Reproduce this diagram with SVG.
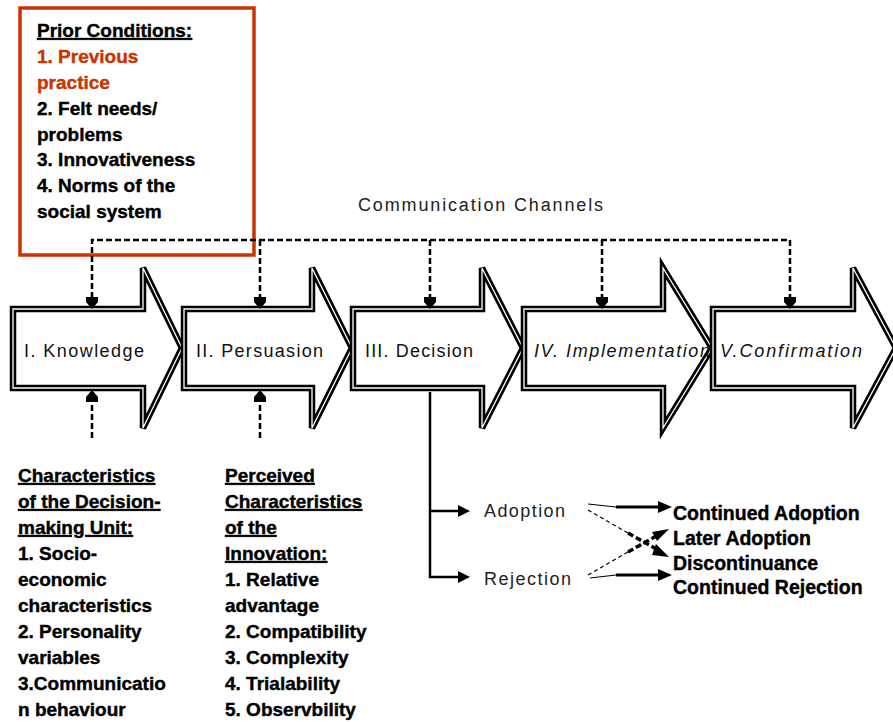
<svg xmlns="http://www.w3.org/2000/svg" width="893" height="722" viewBox="0 0 893 722">
<defs>
<style>
.bk{fill:#fff;stroke:#000;stroke-width:6.5;stroke-linejoin:miter}
.wl{fill:none;stroke:#fff;stroke-width:1.3;stroke-linejoin:miter}
.lbl{font-family:"Liberation Sans",Arial,sans-serif;font-size:18px;fill:#111}
.it{font-style:italic}
.bt{font-family:"Liberation Sans",Arial,sans-serif;font-size:19px;font-weight:bold;fill:#000;stroke:#000;stroke-width:0.4}
.ul{text-decoration:underline}
.red{fill:#cc3300;stroke:#cc3300}
.big{font-size:19.5px}
.dash{fill:none;stroke:#000;stroke-width:2.5;stroke-dasharray:6 3}
.solid{fill:none;stroke:#000;stroke-width:2.5}
.thin{fill:none;stroke:#000;stroke-width:1.2}
.thindash{fill:none;stroke:#000;stroke-width:1.2;stroke-dasharray:4 3}
.thickdash{fill:none;stroke:#000;stroke-width:3.5;stroke-dasharray:6 3}
.ah{fill:#000}
.gl{font-family:"Liberation Sans",Arial,sans-serif;font-size:18px;fill:#222}
</style>
</defs>
<rect width="893" height="722" fill="#fff"/>

<g id="prior-conditions">
<rect x="20" y="8" width="234" height="247" fill="#fff" stroke="#cc3300" stroke-width="3.5"/>
<text class="bt" x="37" y="37"><tspan class="ul">Prior Conditions:</tspan></text>
<text class="bt red" x="37" y="63">1. Previous</text>
<text class="bt red" x="37" y="89">practice</text>
<text class="bt" x="37" y="115">2. Felt needs/</text>
<text class="bt" x="37" y="141">problems</text>
<text class="bt" x="37" y="166">3. Innovativeness</text>
<text class="bt" x="37" y="192">4. Norms of the</text>
<text class="bt" x="37" y="218">social system</text>
</g>

<text class="gl" x="358" y="211" textLength="245" lengthAdjust="spacing">Communication Channels</text>

<g id="knowledge">
<polygon class="bk" points="13,309 143,309 143,268 182,348 143,428 143,388 13,388"/>
<polygon class="wl" points="13,309 143,309 143,268 182,348 143,428 143,388 13,388"/>
<text class="lbl" x="24" y="357" textLength="120" lengthAdjust="spacing">I. Knowledge</text>
</g>
<g id="persuasion">
<polygon class="bk" points="184,309 312,309 312,268 352,348 312,428 312,388 184,388"/>
<polygon class="wl" points="184,309 312,309 312,268 352,348 312,428 312,388 184,388"/>
<text class="lbl" x="196" y="357" textLength="127" lengthAdjust="spacing">II. Persuasion</text>
</g>
<g id="decision">
<polygon class="bk" points="353,309 482,309 482,268 523,348 482,428 482,388 353,388"/>
<polygon class="wl" points="353,309 482,309 482,268 523,348 482,428 482,388 353,388"/>
<text class="lbl" x="365" y="357" textLength="108" lengthAdjust="spacing">III. Decision</text>
</g>
<g id="implementation">
<polygon class="bk" points="524,309 663,309 663,268 712,348 663,428 663,388 524,388"/>
<polygon class="wl" points="524,309 663,309 663,268 712,348 663,428 663,388 524,388"/>
<text class="lbl it" x="534" y="357" textLength="176" lengthAdjust="spacing">IV. Implementation</text>
</g>
<g id="confirmation">
<polygon class="bk" points="713,309 853,309 853,268 896,348 853,428 853,388 713,388"/>
<polygon class="wl" points="713,309 853,309 853,268 896,348 853,428 853,388 713,388"/>
<text class="lbl it" x="720" y="357" textLength="142" lengthAdjust="spacing">V.Confirmation</text>
</g>

<g id="connectors">
<path class="dash" d="M92,298 V240 H790 V298"/>
<path class="dash" d="M260,240 V298"/>
<path class="dash" d="M430,240 V298"/>
<path class="dash" d="M602,240 V298"/>
<polygon class="ah" points="86,297 98,297 98,302 92,309 86,302"/>
<polygon class="ah" points="254,297 266,297 266,302 260,309 254,302"/>
<polygon class="ah" points="424,297 436,297 436,302 430,309 424,302"/>
<polygon class="ah" points="596,297 608,297 608,302 602,309 596,302"/>
<polygon class="ah" points="784,297 796,297 796,302 790,309 784,302"/>
<path class="dash" d="M92,438 V400"/>
<path class="dash" d="M260,438 V400"/>
<polygon class="ah" points="86,402 98,402 98,397 92,390 86,397"/>
<polygon class="ah" points="254,402 266,402 266,397 260,390 254,397"/>
<path class="solid" d="M430,392 V577 H460 M430,511 H460"/>
<polygon class="ah" points="458,505 470,511 458,517"/>
<polygon class="ah" points="458,571 470,577 458,583"/>
<path class="thin" d="M588,504 L616,507"/>
<path class="solid" d="M616,507 H660" style="stroke-width:3"/>
<polygon class="ah" points="658,501 672,507 658,513"/>
<path class="thin" d="M590,578 L616,575"/>
<path class="solid" d="M616,575 H660" style="stroke-width:3"/>
<polygon class="ah" points="658,569 672,575 658,581"/>
<path class="thindash" d="M588,510 L628,533"/>
<path class="thickdash" d="M628,533 L658,550"/>
<polygon class="ah" points="656,544 669,557 652,555"/>
<path class="thindash" d="M588,575 L628,552"/>
<path class="thickdash" d="M628,552 L658,535"/>
<polygon class="ah" points="652,532 669,529 657,541"/>
</g>

<g id="outcomes">
<text class="gl" x="484" y="517" textLength="81" lengthAdjust="spacing">Adoption</text>
<text class="gl" x="484" y="585" textLength="87" lengthAdjust="spacing">Rejection</text>
<text class="bt big" x="673" y="520">Continued Adoption</text>
<text class="bt big" x="673" y="545">Later Adoption</text>
<text class="bt big" x="673" y="570">Discontinuance</text>
<text class="bt big" x="673" y="594">Continued Rejection</text>
</g>

<g id="decision-unit">
<text class="bt ul" x="18" y="482">Characteristics</text>
<text class="bt ul" x="18" y="508">of the Decision-</text>
<text class="bt ul" x="18" y="534">making Unit:</text>
<text class="bt" x="18" y="560">1. Socio-</text>
<text class="bt" x="18" y="586">economic</text>
<text class="bt" x="18" y="612">characteristics</text>
<text class="bt" x="18" y="638">2. Personality</text>
<text class="bt" x="18" y="664">variables</text>
<text class="bt" x="18" y="690">3.Communicatio</text>
<text class="bt" x="18" y="716">n behaviour</text>
</g>

<g id="innovation">
<text class="bt ul" x="225" y="482">Perceived</text>
<text class="bt ul" x="225" y="508">Characteristics</text>
<text class="bt ul" x="225" y="534">of the</text>
<text class="bt ul" x="225" y="560">Innovation:</text>
<text class="bt" x="225" y="586">1. Relative</text>
<text class="bt" x="225" y="612">advantage</text>
<text class="bt" x="225" y="638">2. Compatibility</text>
<text class="bt" x="225" y="664">3. Complexity</text>
<text class="bt" x="225" y="690">4. Trialability</text>
<text class="bt" x="225" y="716">5. Observbility</text>
</g>
</svg>
